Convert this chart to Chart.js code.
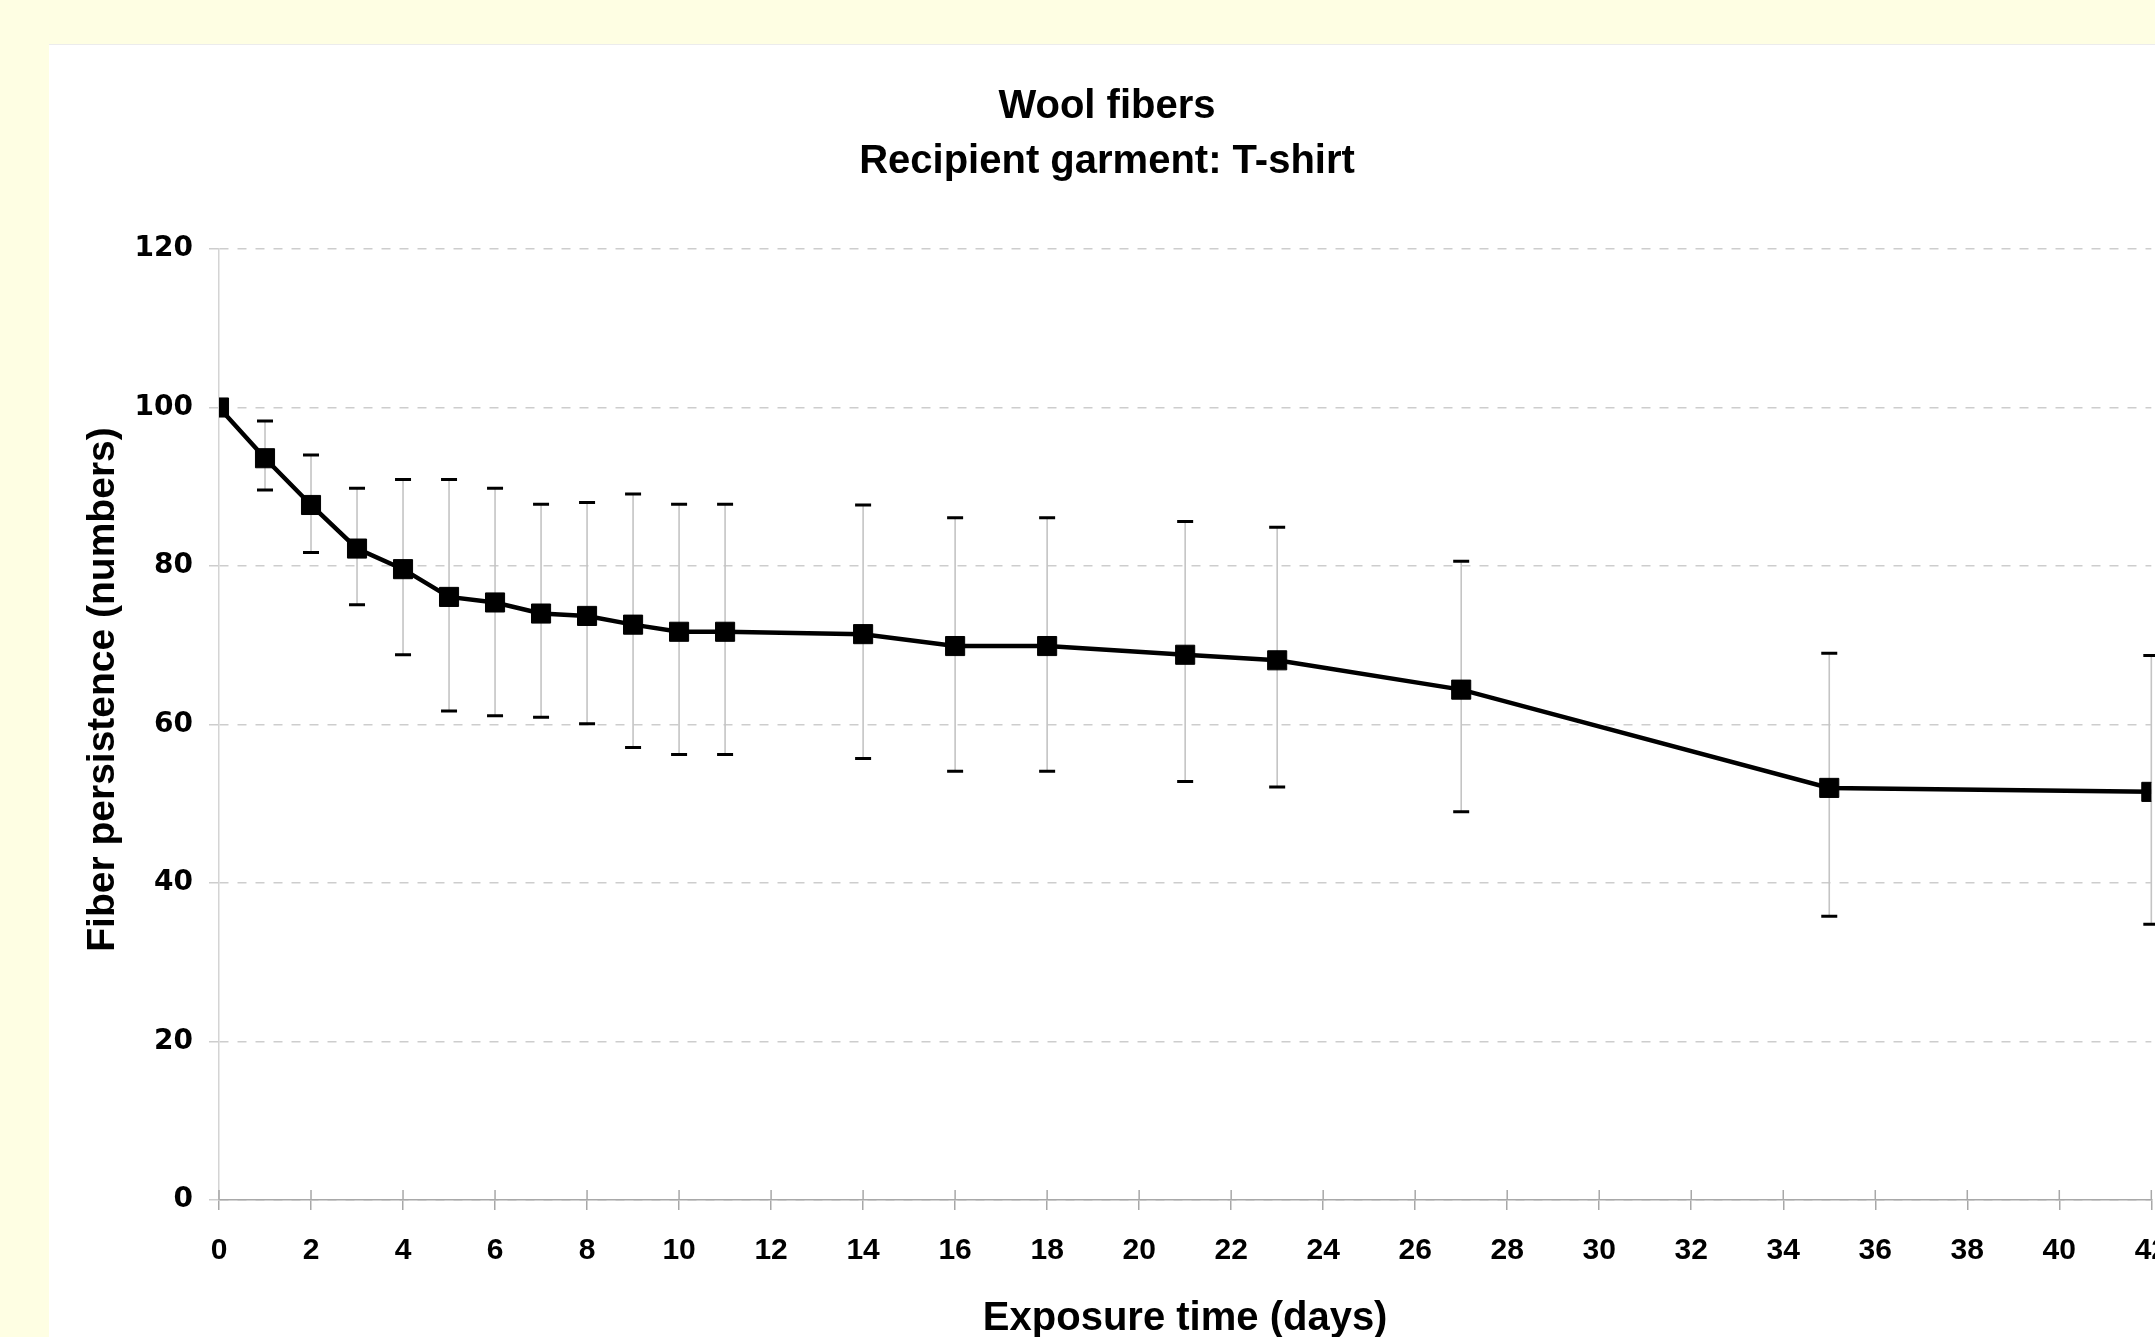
<!DOCTYPE html>
<html>
<head>
<meta charset="utf-8">
<script src="https://cdn.jsdelivr.net/npm/chart.js@4.4.1/dist/chart.umd.min.js"></script>
<style>
    body {
        margin: 0;
        background: #fefee3;
        width: 2155px;
        height: 1337px;
        overflow: hidden;
    }
    #panel {
        position: absolute;
        left: 49px;
        top: 44px;
        right: 0;
        bottom: 0;
        background: #ffffff;
        border-top: 1px solid #ececec;
        overflow: hidden;
    }
    #fiberChart {
        position: absolute;
        left: 0;
        top: -1px;
    }
</style>
</head>
<body>
<div id="panel">
    <canvas id="fiberChart" width="2142" height="1316"></canvas>
</div>
<script>
// Data
const days = [0, 1, 2, 3, 4, 5, 6, 7, 8, 9, 10, 11, 14, 16, 18, 21, 23, 27, 35, 42];
const persistence = [100, 93.6, 87.7, 82.2, 79.6, 76.1, 75.4, 74.0, 73.7, 72.6, 71.7, 71.7, 71.4, 69.9, 69.9, 68.8, 68.1, 64.4, 52.0, 51.5];
const errHigh = [null, 98.3, 94.0, 89.8, 90.9, 90.9, 89.8, 87.8, 88.0, 89.1, 87.8, 87.8, 87.7, 86.1, 86.1, 85.6, 84.9, 80.6, 69.0, 68.7];
const errLow = [null, 89.6, 81.7, 75.1, 68.8, 61.7, 61.1, 60.9, 60.1, 57.1, 56.2, 56.2, 55.7, 54.1, 54.1, 52.8, 52.1, 49.0, 35.8, 34.8];

const titleLines = ['Wool fibers', 'Recipient garment: T-shirt'];
const xTitle = 'Exposure time (days)';
const yTitle = 'Fiber persistence (numbers)';

// Error bars: grey stem, black caps, drawn under the line
const errorBars = {
    id: 'errorBars',
    beforeDatasetsDraw(chart) {
        const {ctx, scales: {x, y}} = chart;
        ctx.save();
        for (let i = 0; i < days.length; i++) {
            if (errHigh[i] == null) continue;
            const px = x.getPixelForValue(days[i]);
            const top = y.getPixelForValue(errHigh[i]);
            const bottom = y.getPixelForValue(errLow[i]);
            ctx.strokeStyle = '#c4c4c4';
            ctx.lineWidth = 1.6;
            ctx.beginPath();
            ctx.moveTo(px, top);
            ctx.lineTo(px, bottom);
            ctx.stroke();
            ctx.strokeStyle = '#000';
            ctx.lineWidth = 3;
            ctx.beginPath();
            ctx.moveTo(px - 8, top);
            ctx.lineTo(px + 8, top);
            ctx.moveTo(px - 8, bottom);
            ctx.lineTo(px + 8, bottom);
            ctx.stroke();
        }
        ctx.restore();
    }
};

// x tick marks cross the axis, so draw the part inside the plot
const innerTicks = {
    id: 'innerTicks',
    beforeDatasetsDraw(chart) {
        const {ctx, scales: {x}, chartArea} = chart;
        ctx.save();
        ctx.strokeStyle = '#a8a8a8';
        ctx.lineWidth = 1.5;
        ctx.beginPath();
        x.ticks.forEach(t => {
            const px = x.getPixelForValue(t.value);
            ctx.moveTo(px, chartArea.bottom);
            ctx.lineTo(px, chartArea.bottom - 10);
        });
        ctx.stroke();
        ctx.restore();
    }
};

// y axis title sits a bit above the middle of the axis
const yAxisTitle = {
    id: 'yAxisTitle',
    afterDraw(chart) {
        const {ctx, chartArea} = chart;
        ctx.save();
        ctx.translate(54, (chartArea.top + chartArea.bottom) / 2 - 35);
        ctx.rotate(-Math.PI / 2);
        ctx.font = 'bold 39px "Liberation Sans", Arial, sans-serif';
        ctx.fillStyle = '#000';
        ctx.textAlign = 'center';
        ctx.textBaseline = 'middle';
        ctx.fillText(yTitle, 0, 0);
        ctx.restore();
    }
};

const ctx = document.getElementById('fiberChart').getContext('2d');

new Chart(ctx, {
    type: 'line',
    data: {
        datasets: [{
            data: days.map((d, i) => ({x: d, y: persistence[i]})),
            borderColor: '#000',
            backgroundColor: '#000',
            borderWidth: 4.5,
            tension: 0,
            pointStyle: 'rect',
            pointRadius: 13.5,
            pointBorderWidth: 1,
            pointBorderColor: '#000',
            pointBackgroundColor: '#000'
        }]
    },
    options: {
        responsive: false,
        devicePixelRatio: 1,
        animation: false,
        layout: {
            padding: {left: 0, right: 26, top: 0, bottom: 0}
        },
        plugins: {
            legend: {display: false},
            tooltip: {enabled: false},
            title: {
                display: true,
                text: titleLines,
                color: '#000',
                font: {family: '"Liberation Sans", Arial, sans-serif', size: 40, weight: 'bold', lineHeight: 1.375},
                padding: {top: 35, bottom: 60}
            }
        },
        scales: {
            x: {
                type: 'linear',
                min: 0,
                max: 42,
                afterFit: scale => { scale.height = 160; },
                ticks: {
                    stepSize: 2,
                    color: '#000',
                    padding: 23,
                    maxRotation: 0,
                    font: {family: '"Liberation Sans Narrow", "Liberation Sans", Arial, sans-serif', size: 30, weight: 'bold'}
                },
                grid: {
                    drawOnChartArea: false,
                    color: '#a8a8a8',
                    lineWidth: 1.5,
                    tickLength: 10
                },
                border: {color: '#a8a8a8', width: 1.5},
                title: {
                    display: true,
                    text: xTitle,
                    color: '#000',
                    font: {family: '"Liberation Sans", Arial, sans-serif', size: 40, weight: 'bold', lineHeight: 1.2},
                    padding: {top: 0, bottom: 17}
                }
            },
            y: {
                min: 0,
                max: 120,
                afterFit: scale => { scale.width = 170; },
                ticks: {
                    stepSize: 20,
                    color: '#000',
                    padding: 16,
                    font: {family: '"DejaVu Sans", Verdana, sans-serif', size: 28, weight: 'bold'}
                },
                grid: {
                    color: '#cdcdcd',
                    lineWidth: 1.5,
                    tickLength: 10,
                    tickBorderDash: [9, 9]
                },
                border: {color: '#d4d4d4', width: 1.5, dash: [9, 9]}
            }
        }
    },
    plugins: [errorBars, innerTicks, yAxisTitle]
});
</script>
</body>
</html>
